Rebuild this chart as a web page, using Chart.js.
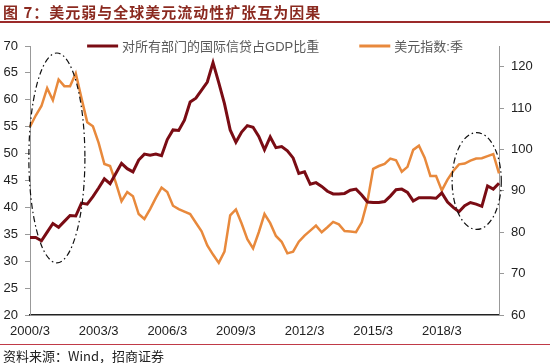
<!DOCTYPE html>
<html>
<head>
<meta charset="utf-8">
<script src="https://cdn.jsdelivr.net/npm/chart.js@4/dist/chart.umd.min.js"></script>
<style>
  body { margin: 0; background: #fff; }
  #wrap { position: relative; width: 550px; height: 363px; overflow: hidden; }
  #title { position: absolute; left: 3px; top: 1px; font: bold 15px "Noto Sans CJK SC", sans-serif; color: #8b2a20; letter-spacing: 1px; white-space: nowrap; }
  #topline { position: absolute; left: 0; top: 21px; width: 550px; height: 2px; background: #9b2a2a; }
  #botline { position: absolute; left: 0; top: 344px; width: 550px; height: 1px; background: #c03a48; }
  #source { position: absolute; left: 3px; top: 346px; font: 13px "Noto Sans CJK SC", sans-serif; color: #222; white-space: nowrap; }
  canvas { position: absolute; left: 0; top: 0; }
</style>
</head>
<body>
<div id="wrap">
  <canvas id="chart" width="550" height="363"></canvas>
  <div id="title">图 7：美元弱与全球美元流动性扩张互为因果</div>
  <div id="topline"></div>
  <div id="botline"></div>
  <div id="source">资料来源：Wind，招商证券</div>
</div>
<script>
// quarterly categories 2000/3 .. 2020/9
const quarters = [];
for (let y = 2000; y <= 2020; y++) {
  for (const m of [3, 6, 9, 12]) quarters.push(y + "/" + m);
}
quarters.length = 83;

const tickLabels = ["2000/3", "2003/3", "2006/3", "2009/3", "2012/3", "2015/3", "2018/3"];

// 对所有部门的国际信贷占GDP比重 (left axis, %)
const creditGdp = [
  34.4, 34.4, 33.8, 35.4, 37.0, 36.3, 37.4, 38.5, 38.4, 40.8,
  40.6, 42.0, 43.6, 45.3, 44.4, 46.3, 48.2, 47.2, 46.6, 48.8,
  49.9, 49.7, 49.9, 49.6, 52.6, 54.4, 54.3, 56.2, 59.6, 60.3,
  61.8, 63.3, 66.9, 63.2, 59.3, 54.4, 52.1, 54.0, 55.2, 54.9,
  53.2, 50.7, 53.1, 51.1, 51.3, 50.5, 49.2, 46.3, 46.6, 44.3,
  44.6, 43.9, 43.0, 42.5, 42.5, 42.6, 43.2, 43.4, 42.3, 41.0,
  40.9, 40.9, 41.1, 42.1, 43.3, 43.4, 42.8, 41.2, 41.8, 41.8,
  41.8, 41.7, 42.7, 41.0, 40.0, 39.2, 40.3, 40.9, 40.6, 40.2,
  44.0, 43.4, 44.5
];

// 美元指数:季 (right axis)
const dxy = [
  105.5, 108.2, 110.5, 114.8, 111.9, 116.9, 115.3, 115.3, 118.4, 112.4,
  106.6, 105.6, 101.6, 96.5, 96.0, 92.0, 87.5, 89.7, 88.7, 84.4,
  83.2, 85.6, 88.3, 90.8, 89.7, 86.4, 85.6, 85.0, 84.4, 82.3,
  80.2, 76.8, 74.6, 72.6, 75.3, 84.1, 85.5, 82.1, 78.3, 76.1,
  80.0, 84.4, 82.2, 79.1, 77.7, 74.9, 75.3, 77.7, 79.2, 80.4,
  81.6, 80.0, 81.2, 82.5, 81.9, 80.3, 80.2, 80.0, 82.4, 87.5,
  95.3, 96.0, 96.5, 97.8, 97.4, 94.6, 95.8, 99.9, 100.9, 98.0,
  93.6, 93.6, 90.1, 92.7, 94.8, 96.4, 96.6, 97.3, 97.8, 97.9,
  98.4, 98.9, 94.2
];

// dash-dot circles: centre index, centre value (left axis), half-width in quarters, half-height in %
const circles = [
  { cx: 4.7, cy: 49.2, rx: 4.9, ry: 19.5 },
  { cx: 78.1, cy: 44.9, rx: 4.3, ry: 9.0 }
];

const fontFamily = '"Liberation Sans", "Noto Sans CJK SC", sans-serif';

const legendPlugin = {
  id: "lineLegend",
  afterDraw(chart) {
    const ctx = chart.ctx;
    const lineLen = 31, gap = 4, between = 40;
    ctx.save();
    ctx.font = "13px " + fontFamily;
    const items = chart.data.datasets.map(d => ({ d, w: ctx.measureText(d.label).width }));
    let total = 0;
    items.forEach((it, i) => { total += lineLen + gap + it.w + (i ? between : 0); });
    let x = (chart.width - total) / 2;
    const y = chart.chartArea.top;
    items.forEach(it => {
      ctx.strokeStyle = it.d.borderColor;
      ctx.lineWidth = 3;
      ctx.beginPath();
      ctx.moveTo(x, y);
      ctx.lineTo(x + lineLen, y);
      ctx.stroke();
      ctx.fillStyle = "#595959";
      ctx.textBaseline = "middle";
      ctx.fillText(it.d.label, x + lineLen + gap, y + 1);
      x += lineLen + gap + it.w + between;
    });
    ctx.restore();
  }
};

const circlePlugin = {
  id: "circles",
  afterDatasetsDraw(chart) {
    const ctx = chart.ctx, xs = chart.scales.x, ys = chart.scales.y;
    ctx.save();
    ctx.strokeStyle = "#111";
    ctx.lineWidth = 1.2;
    ctx.setLineDash([6, 3, 1.5, 3]);
    circles.forEach(c => {
      const px = xs.getPixelForValue(c.cx);
      const py = ys.getPixelForValue(c.cy);
      const rx = xs.getPixelForValue(c.cx + c.rx) - px;
      const ry = py - ys.getPixelForValue(c.cy + c.ry);
      ctx.beginPath();
      ctx.ellipse(px, py, rx, ry, 0, 0, Math.PI * 2);
      ctx.stroke();
    });
    ctx.restore();
  }
};

new Chart(document.getElementById("chart").getContext("2d"), {
  type: "line",
  data: {
    labels: quarters,
    datasets: [
      {
        label: "对所有部门的国际信贷占GDP比重",
        data: creditGdp,
        borderColor: "#7a0c14",
        borderWidth: 3,
        yAxisID: "y"
      },
      {
        label: "美元指数:季",
        data: dxy,
        borderColor: "#e8893c",
        borderWidth: 2.5,
        yAxisID: "y1"
      }
    ]
  },
  options: {
    responsive: false,
    animation: false,
    devicePixelRatio: 1,
    layout: { padding: { top: 46, left: 0, right: 0, bottom: 0 } },
    elements: { point: { radius: 0 }, line: { tension: 0 } },
    plugins: { legend: { display: false }, tooltip: { enabled: false } },
    scales: {
      x: {
        grid: { display: false, drawTicks: false },
        border: { color: "#222", width: 1.5 },
        afterFit(s) { s.height = 48; },
        ticks: {
          autoSkip: false,
          maxRotation: 0,
          padding: 9,
          color: "#222",
          font: { family: fontFamily, size: 13 },
          callback(value) {
            const l = this.getLabelForValue(value);
            return tickLabels.includes(l) ? l : "";
          }
        }
      },
      y: {
        position: "left",
        min: 20, max: 70,
        afterFit(s) { s.width = 30; },
        grid: { drawOnChartArea: false, drawTicks: true, tickLength: 5, color: "#999" },
        border: { color: "#999" },
        ticks: { stepSize: 5, padding: 7, color: "#222", font: { family: fontFamily, size: 13 } }
      },
      y1: {
        position: "right",
        min: 60, max: 125,
        afterFit(s) { s.width = 51; },
        grid: { drawOnChartArea: false, drawTicks: true, tickLength: 5, color: "#999" },
        border: { color: "#999" },
        ticks: { stepSize: 10, includeBounds: false, padding: 7, color: "#222", font: { family: fontFamily, size: 13 } }
      }
    }
  },
  plugins: [legendPlugin, circlePlugin]
});
</script>
</body>
</html>
